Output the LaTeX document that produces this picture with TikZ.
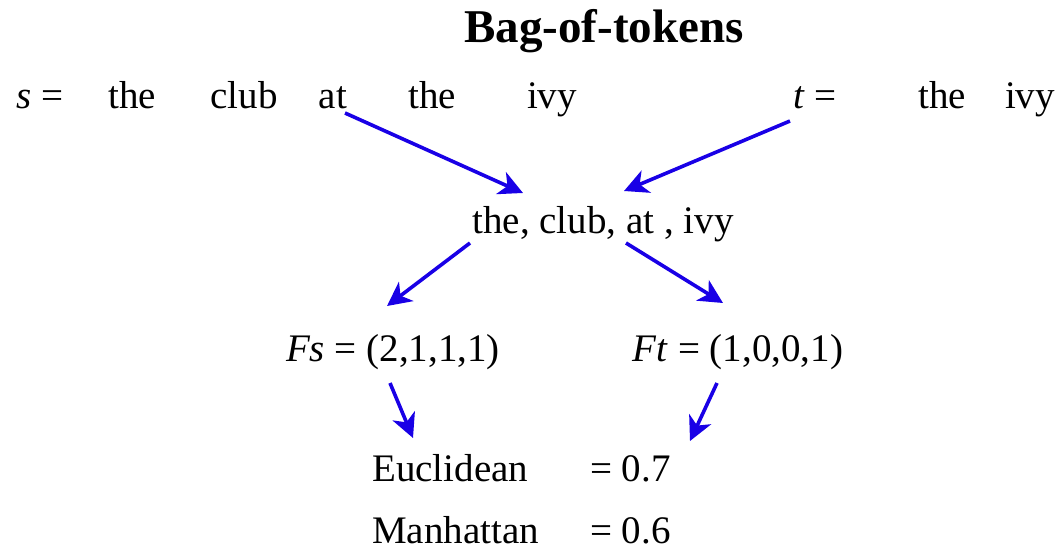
\documentclass[tikz,border=0pt]{standalone}
\usepackage{fontspec}
\setmainfont{Liberation Serif}
\usetikzlibrary{arrows.meta}
\definecolor{arrblue}{RGB}{25,0,230}
\tikzset{
  word/.style={inner sep=0pt, anchor=base, font=\fontsize{39}{44}\selectfont},
  conn/.style={draw=arrblue, line width=3.6pt, -{Stealth[length=24pt,width=24pt,inset=7pt]}}
}
\begin{document}
\begin{tikzpicture}[x=1pt,y=-1pt]
\useasboundingbox (0,0) rectangle (1063,551);
\node[word, font=\bfseries\fontsize{47}{50}\selectfont] (title) at (604,43) {Bag-of-tokens};
% row s
\node[word] (seq) at (40,108) {\textit{s} =};
\node[word] (s1) at (132,108) {the};
\node[word] (s2) at (244,108) {club};
\node[word] (s3) at (333,108) {at};
\node[word] (s4) at (432,108) {the};
\node[word] (s5) at (552,108) {ivy};
% row t
\node[word] (teq) at (815,108) {\textit{t} =};
\node[word] (t1) at (942,108) {the};
\node[word] (t2) at (1030,108) {ivy};
% bag
\node[word] (bag) at (603,233) {the, club, at , ivy};
% vectors
\node[word] (fs) at (393,361) {\textit{Fs} = (2,1,1,1)};
\node[word] (ft) at (738,361) {\textit{Ft} = (1,0,0,1)};
% distances
\node[word, anchor=base west] (eu) at (372,481) {Euclidean};
\node[word, anchor=base west] (euv) at (590,481) {= 0.7};
\node[word, anchor=base west] (ma) at (372,543) {Manhattan};
\node[word, anchor=base west] (mav) at (590,543) {= 0.6};
% connector end points
\coordinate (a1s) at (345,113);
\coordinate (a1e) at (523,193);
\coordinate (a2s) at (790,121);
\coordinate (a2e) at (624,191);
\coordinate (a3s) at (470,243);
\coordinate (a3e) at (387,306);
\coordinate (a4s) at (626,243);
\coordinate (a4e) at (723,303);
\coordinate (a5s) at (390,383);
\coordinate (a5e) at (413,438);
\coordinate (a6s) at (717,383);
\coordinate (a6e) at (690,441);
\draw[conn] (a1s) -- (a1e);
\draw[conn] (a2s) -- (a2e);
\draw[conn] (a3s) -- (a3e);
\draw[conn] (a4s) -- (a4e);
\draw[conn] (a5s) -- (a5e);
\draw[conn] (a6s) -- (a6e);
\end{tikzpicture}
\end{document}
